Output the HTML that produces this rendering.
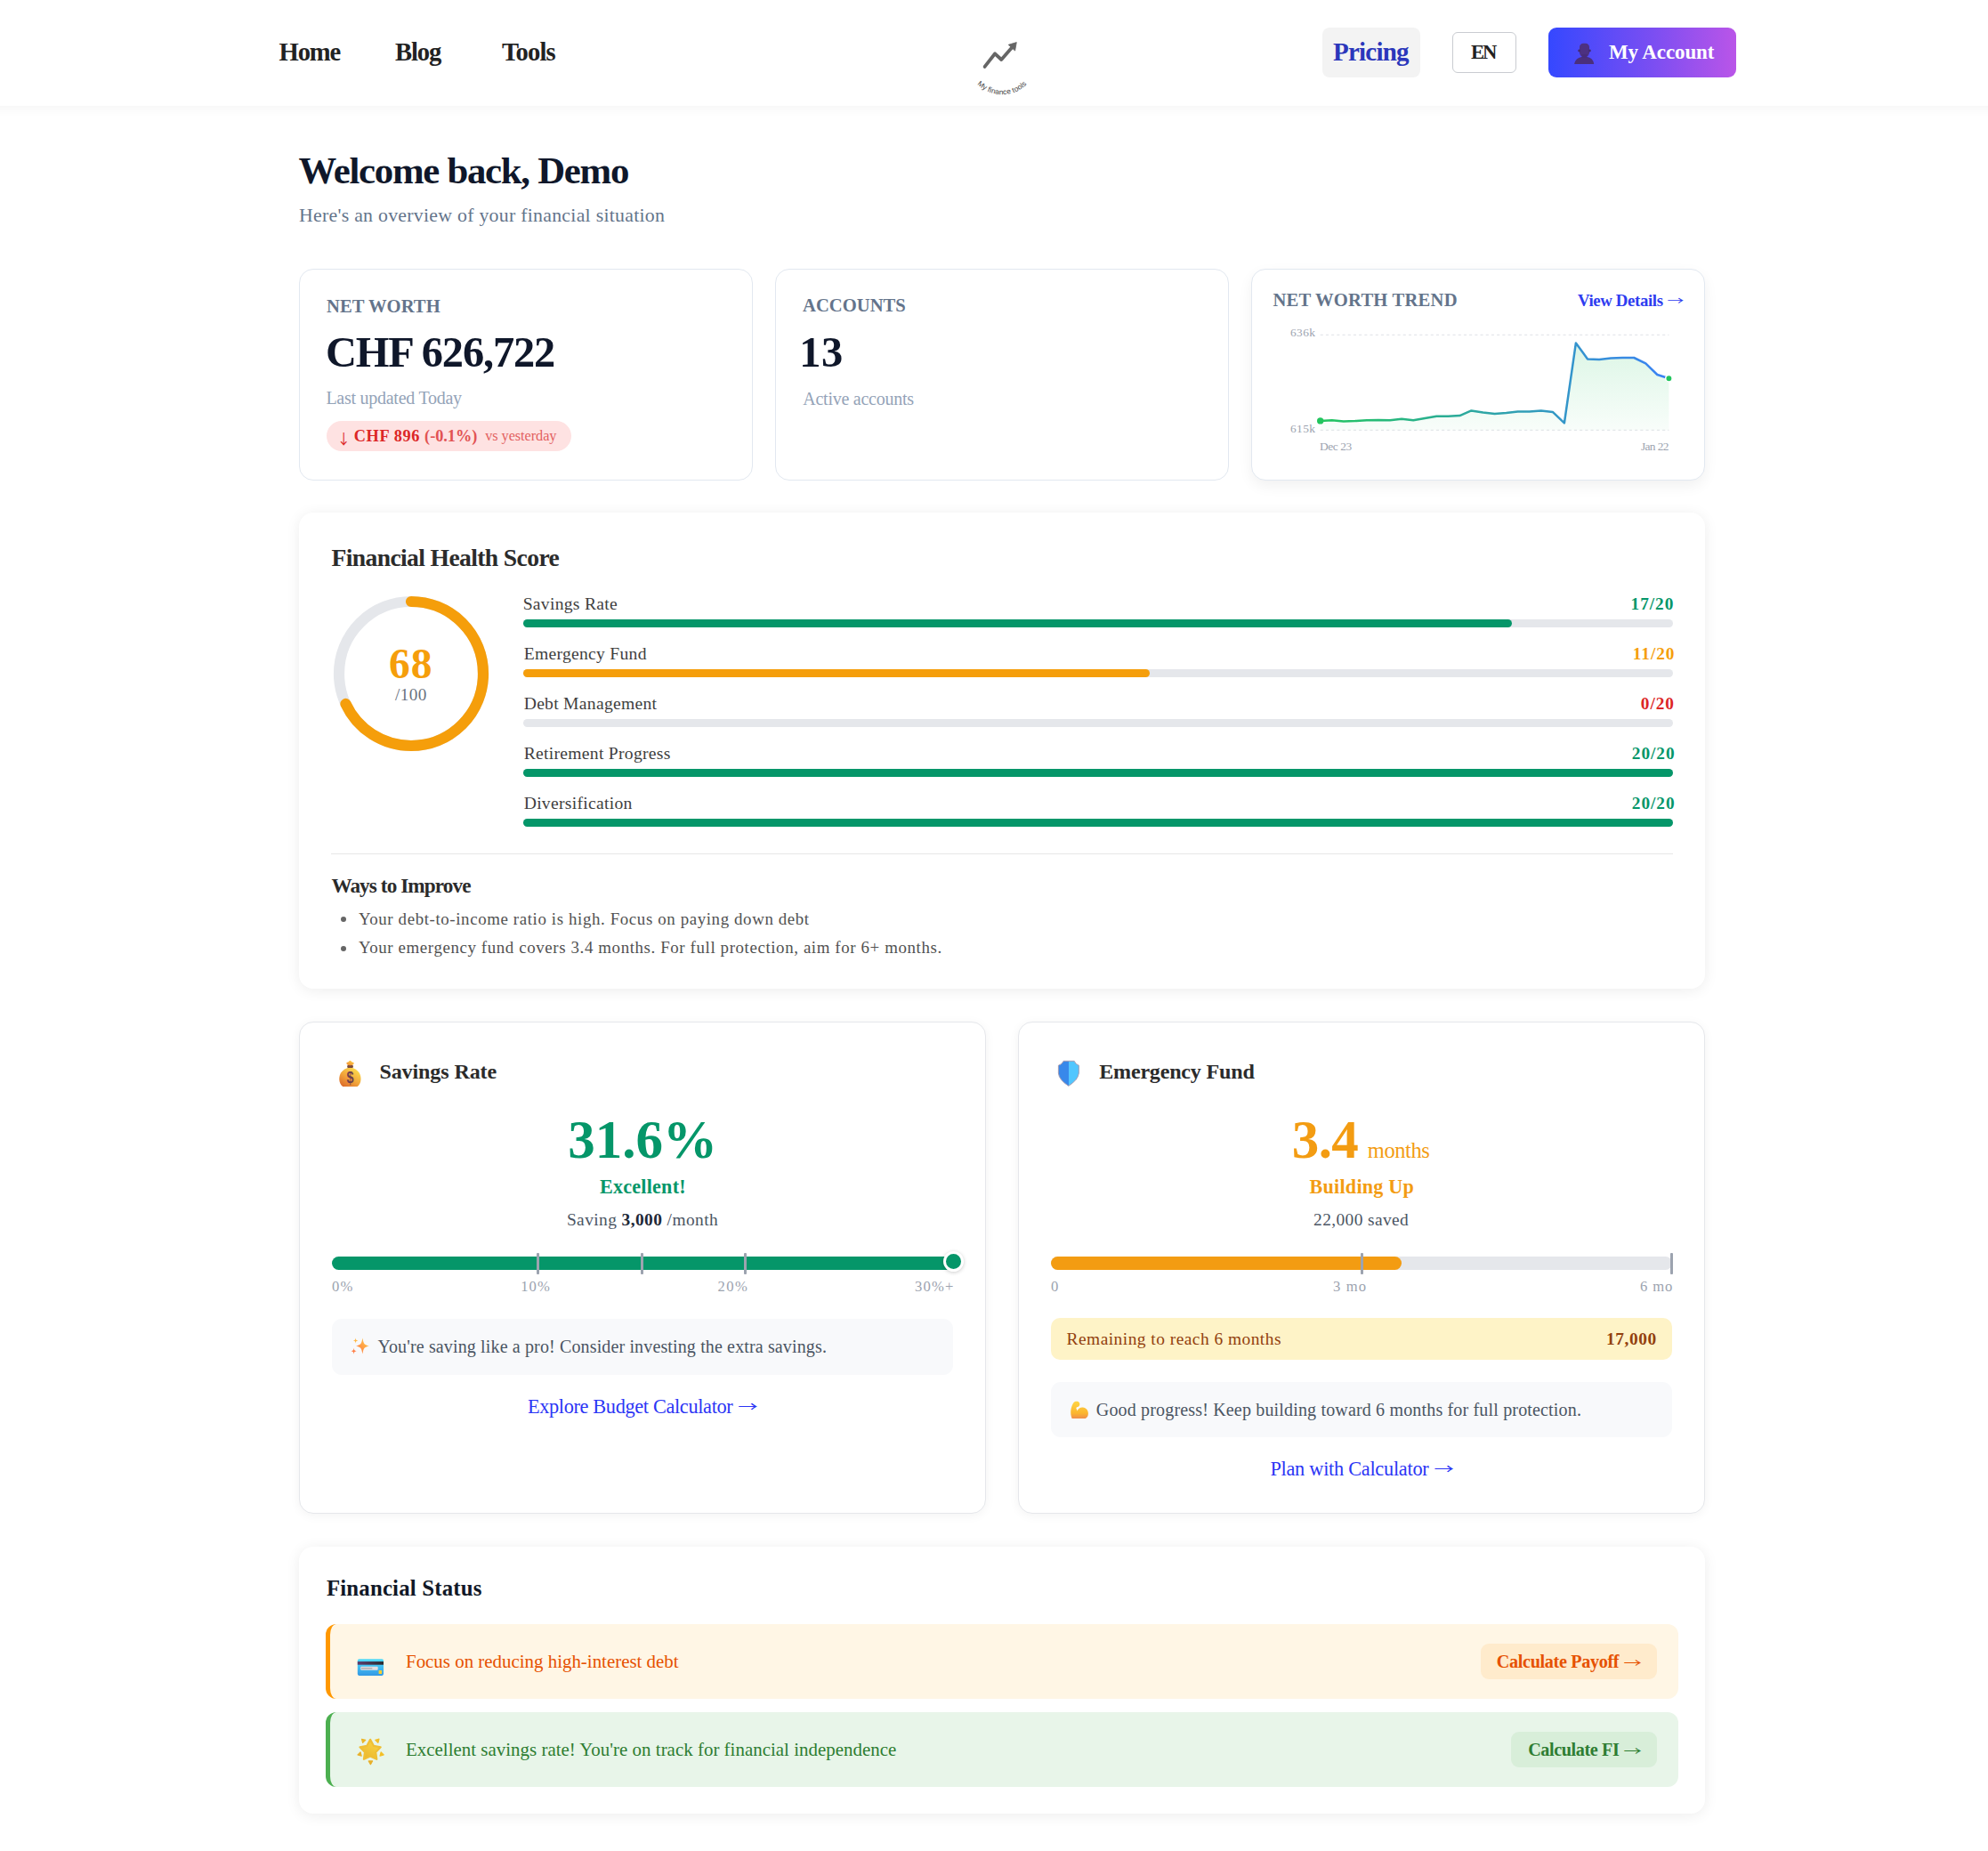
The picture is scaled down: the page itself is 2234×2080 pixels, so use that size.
<!DOCTYPE html>
<html lang="en"><head><meta charset="utf-8"><title>Dashboard - My finance tools</title>
<style>
html,body{margin:0;padding:0;}
body{width:2234px;height:2080px;position:relative;overflow:hidden;background:#fff;font-family:"Liberation Serif", "Times New Roman", serif;}
.t{position:absolute;white-space:nowrap;font-family:"Liberation Serif", "Times New Roman", serif;}
.b{position:absolute;box-sizing:border-box;}
.e{position:absolute;font-family:"Noto Color Emoji", "Liberation Serif", sans-serif;white-space:nowrap;}
svg.abs{position:absolute;overflow:visible;}
svg.ia{display:inline-block;overflow:visible;}
.arr{display:inline-block;font-family:"Noto Sans CJK JP","Noto Sans CJK SC","DejaVu Sans",sans-serif;line-height:0;transform:translateY(0.08em) scaleY(0.64);transform-origin:50% 0;}
.darr{display:inline-block;font-family:"Noto Sans CJK JP","Noto Sans CJK SC","DejaVu Sans",sans-serif;font-weight:400;line-height:0;transform:translateY(0.22em) scale(0.82,0.87);transform-origin:50% 0;margin-right:-0.2em;margin-left:-0.1em;}
</style></head><body>
<div class="b" style="left:-60px;top:0px;width:2354px;height:119px;background:#fff;box-shadow:0 3px 12px rgba(0,0,0,0.045);z-index:1;"></div><div class="t" id="home" style="left:313.60px;top:44.76px;font-size:28.6px;line-height:28.6px;font-weight:700;color:#222222;letter-spacing:-1.136px;z-index:2;"><span>Home</span></div><div class="t" id="blog" style="left:444.00px;top:44.76px;font-size:28.6px;line-height:28.6px;font-weight:700;color:#222222;letter-spacing:-1.136px;z-index:2;"><span>Blog</span></div><div class="t" id="tools" style="left:564.00px;top:44.76px;font-size:28.6px;line-height:28.6px;font-weight:700;color:#222222;letter-spacing:-0.850px;z-index:2;"><span>Tools</span></div><svg class="abs" style="left:1080px;top:30px;z-index:2" width="100" height="85" viewBox="1080 30 100 85">
<polyline points="1106.6,74.9 1118.1,60.3 1125.3,67 1139,51.2" fill="none" stroke="#666" stroke-width="3.8" stroke-linecap="round" stroke-linejoin="round"/>
<polygon points="1142.3,47.6 1133.2,50.3 1140.6,57" fill="#666" stroke="#666" stroke-width="0.8" stroke-linejoin="round"/>
<defs><path id="arc" d="M 1086 66.2 A 40 40 0 0 0 1166 66.2"/></defs>
<text font-family="Liberation Sans, Arial, sans-serif" font-size="8.3" letter-spacing="0.12" fill="#404040"><textPath href="#arc" startOffset="50%" text-anchor="middle">My finance tools</textPath></text>
</svg><div class="b" style="left:1486px;top:31px;width:110px;height:56px;background:#f3f3f3;border-radius:8px;z-index:2;"></div><div class="t" id="pricing" style="left:1498.00px;top:43.52px;font-size:29px;line-height:29px;font-weight:700;color:#2b37bb;letter-spacing:-0.765px;z-index:3;"><span>Pricing</span></div><div class="b" style="left:1632px;top:36px;width:72px;height:46px;background:#fff;border:1.2px solid #c9ccd1;border-radius:6px;z-index:2;"></div><div class="t" id="en" style="left:1653.00px;top:47.97px;font-size:22.6px;line-height:22.6px;font-weight:700;color:#222;letter-spacing:-2.000px;z-index:3;"><span>EN</span></div><div class="b" style="left:1740px;top:31px;width:211px;height:56px;background:linear-gradient(90deg,#3548ff 0%,#7a4ef2 55%,#ba55e8 100%);border-radius:9px;z-index:2;"></div><svg class="abs" style="left:1765px;top:45px;z-index:3" width="30" height="30" viewBox="1765 45 30 30"><path d="M1769.2 72 C1769.8 67.2 1773.5 64.4 1778 64 L1783 64 C1787.5 64.4 1790.6 67.2 1791.2 72 Z" fill="#4a2f7c"/><rect x="1775" y="48.8" width="11" height="14.6" rx="4.2" fill="#4d3181"/><circle cx="1774.6" cy="57" r="1.4" fill="#432a72"/><circle cx="1786.4" cy="57" r="1.4" fill="#432a72"/><rect x="1777.5" y="61" width="6" height="4" fill="#472d79"/></svg><div class="t" id="myacc" style="left:1808.00px;top:46.74px;font-size:23px;line-height:23px;font-weight:700;color:#fff;letter-spacing:-0.111px;z-index:3;"><span>My Account</span></div><div class="t" id="h1" style="left:335.60px;top:171.26px;font-size:42.8px;line-height:42.8px;font-weight:700;color:#0f172a;letter-spacing:-1.274px;"><span>Welcome back, Demo</span></div><div class="t" id="sub" style="left:336.00px;top:231.94px;font-size:21.8px;line-height:21.8px;font-weight:400;color:#64748b;letter-spacing:0.275px;"><span>Here's an overview of your financial situation</span></div><div class="b" style="left:336px;top:302px;width:510px;height:238px;background:#fff;border:1.2px solid #e2e8f0;border-radius:16px;"></div><div class="b" style="left:871px;top:302px;width:510px;height:238px;background:#fff;border:1.2px solid #e2e8f0;border-radius:16px;"></div><div class="b" style="left:1406px;top:302px;width:510px;height:238px;background:#fff;border:1.2px solid #e2e8f0;border-radius:16px;box-shadow:0 6px 16px rgba(0,0,0,0.06);"></div><div class="t" id="nw" style="left:367.00px;top:333.85px;font-size:20.6px;line-height:20.6px;font-weight:700;color:#64748b;letter-spacing:0.050px;"><span>NET WORTH</span></div><div class="t" id="chf" style="left:365.90px;top:371.57px;font-size:48.4px;line-height:48.4px;font-weight:700;color:#0f172a;letter-spacing:-1.140px;"><span>CHF 626,722</span></div><div class="t" id="lu" style="left:366.40px;top:437.15px;font-size:20px;line-height:20px;font-weight:400;color:#94a3b8;letter-spacing:-0.261px;"><span>Last updated Today</span></div><div class="b" style="left:367px;top:473px;width:275px;height:34px;background:#fee2e2;border-radius:17px;"></div><div class="t" id="chg" style="left:379.10px;top:480.58px;font-size:18.3px;line-height:18.3px;font-weight:700;color:#dc2626;letter-spacing:0.625px;"><span><span class="darr">&#8595;</span> CHF 896</span></div><div class="t" id="pct" style="left:477.10px;top:480.58px;font-size:18.3px;line-height:18.3px;font-weight:700;color:#e25252;letter-spacing:-0.032px;"><span>(-0.1%)</span></div><div class="t" id="vsy" style="left:545.20px;top:482.25px;font-size:16.3px;line-height:16.3px;font-weight:400;color:#e36060;letter-spacing:-0.057px;"><span>vs yesterday</span></div><div class="t" id="acc" style="left:902.00px;top:333.05px;font-size:20.6px;line-height:20.6px;font-weight:700;color:#64748b;letter-spacing:0.031px;"><span>ACCOUNTS</span></div><div class="t" id="n13" style="left:898.30px;top:372.27px;font-size:48.4px;line-height:48.4px;font-weight:700;color:#0f172a;letter-spacing:0.600px;"><span>13</span></div><div class="t" id="aa" style="left:902.30px;top:437.85px;font-size:20px;line-height:20px;font-weight:400;color:#94a3b8;letter-spacing:-0.258px;"><span>Active accounts</span></div><div class="t" id="nwt" style="left:1430.40px;top:327.15px;font-size:20.6px;line-height:20.6px;font-weight:700;color:#64748b;letter-spacing:0.214px;"><span>NET WORTH TREND</span></div><div class="t" id="vd" style="left:1773.00px;top:328.71px;font-size:18.8px;line-height:18.8px;font-weight:700;color:#2e3cf0;letter-spacing:-0.366px;"><span>View Details <span class="arr" style="font-weight:400;margin-left:0.56px">&#8594;</span></span></div><svg class="abs" style="left:0;top:0" width="2234" height="600" viewBox="0 0 2234 600">
<defs>
<linearGradient id="lg" x1="1483.7" y1="0" x2="1875.4" y2="0" gradientUnits="userSpaceOnUse"><stop offset="0" stop-color="#22c55e"/><stop offset="1" stop-color="#3b82f6"/></linearGradient>
<linearGradient id="fg" x1="0" y1="385" x2="0" y2="484" gradientUnits="userSpaceOnUse"><stop offset="0" stop-color="#22c55e" stop-opacity="0.16"/><stop offset="1" stop-color="#22c55e" stop-opacity="0.03"/></linearGradient>
</defs>
<line x1="1483.7" y1="376.4" x2="1875.4" y2="376.4" stroke="#e5e7eb" stroke-width="1.2" stroke-dasharray="3.1 3.1"/>
<line x1="1483.7" y1="483.4" x2="1875.4" y2="483.4" stroke="#e5e7eb" stroke-width="1.2" stroke-dasharray="3.1 3.1"/>
<path d="M1483.7,483.4 L1483.7,472.9 L1496.8,472.3 L1509.8,473.5 L1522.9,473.1 L1535.9,472.3 L1549.0,472.0 L1562.0,472.3 L1575.1,470.8 L1588.2,472.3 L1601.2,470.1 L1614.3,467.8 L1627.3,467.8 L1640.4,467.1 L1653.4,461.4 L1666.5,463.5 L1679.6,465.0 L1692.6,464.1 L1705.7,462.6 L1718.7,462.6 L1731.8,461.4 L1744.8,462.9 L1757.9,475.3 L1770.9,385.4 L1784.0,403.5 L1797.1,404.1 L1810.1,402.5 L1823.2,402.0 L1836.2,402.0 L1849.3,408.3 L1862.3,421.0 L1875.4,425.2 L1875.4,483.4 Z" fill="url(#fg)"/>
<polyline points="1483.7,472.9 1496.8,472.3 1509.8,473.5 1522.9,473.1 1535.9,472.3 1549.0,472.0 1562.0,472.3 1575.1,470.8 1588.2,472.3 1601.2,470.1 1614.3,467.8 1627.3,467.8 1640.4,467.1 1653.4,461.4 1666.5,463.5 1679.6,465.0 1692.6,464.1 1705.7,462.6 1718.7,462.6 1731.8,461.4 1744.8,462.9 1757.9,475.3 1770.9,385.4 1784.0,403.5 1797.1,404.1 1810.1,402.5 1823.2,402.0 1836.2,402.0 1849.3,408.3 1862.3,421.0 1875.4,425.2" fill="none" stroke="url(#lg)" stroke-width="2.5" stroke-linejoin="round" stroke-linecap="round"/>
<circle cx="1483.7" cy="472.9" r="3.7" fill="#22c55e"/>
<circle cx="1875.4" cy="425.2" r="3.7" fill="#22c55e" stroke="#fff" stroke-width="1.5"/>
</svg><div class="t" id="y636" style="left:1449.90px;top:367.48px;font-size:13.4px;line-height:13.4px;font-weight:400;color:#9ca3af;letter-spacing:0.466px;"><span>636k</span></div><div class="t" id="y615" style="left:1449.90px;top:475.28px;font-size:13.4px;line-height:13.4px;font-weight:400;color:#9ca3af;letter-spacing:0.466px;"><span>615k</span></div><div class="t" id="xdec" style="left:1483.00px;top:495.48px;font-size:13.4px;line-height:13.4px;font-weight:400;color:#9ca3af;letter-spacing:-0.400px;"><span>Dec 23</span></div><div class="t" id="xjan" style="left:1844.00px;top:495.48px;font-size:13.4px;line-height:13.4px;font-weight:400;color:#9ca3af;letter-spacing:-0.640px;"><span>Jan 22</span></div><div class="b" style="left:336px;top:576px;width:1580px;height:535px;background:#fff;border-radius:16px;box-shadow:0 2px 16px rgba(0,0,0,0.075);"></div><div class="t" id="fhs" style="left:372.50px;top:612.99px;font-size:27.6px;line-height:27.6px;font-weight:700;color:#2b2b2b;letter-spacing:-0.619px;"><span>Financial Health Score</span></div><svg class="abs" style="left:361.8px;top:656.7px" width="200" height="200" viewBox="0 0 200 200">
<circle cx="100" cy="100" r="81" fill="none" stroke="#e5e7eb" stroke-width="12.2"/>
<circle cx="100" cy="100" r="81" fill="none" stroke="#f59e0b" stroke-width="12.2" stroke-linecap="round" stroke-dasharray="346.08 508.94" transform="rotate(-90 100 100)"/>
</svg><div class="t" id="s68" style="left:437.10px;top:723.32px;font-size:47.5px;line-height:47.5px;font-weight:700;color:#f59e0b;letter-spacing:1.000px;"><span>68</span></div><div class="t" id="s100" style="left:443.90px;top:771.32px;font-size:19.2px;line-height:19.2px;font-weight:400;color:#6b7280;letter-spacing:0.466px;"><span>/100</span></div><div class="t" id="bl0" style="left:587.70px;top:669.34px;font-size:19.6px;line-height:19.6px;font-weight:400;color:#404040;letter-spacing:0.290px;"><span>Savings Rate</span></div><div class="t" id="bs0" style="left:1832.60px;top:668.64px;font-size:19.3px;line-height:19.3px;font-weight:700;color:#059669;letter-spacing:0.950px;"><span>17/20</span></div><div class="b" style="left:588px;top:696px;width:1292px;height:9.200000000000045px;background:#e5e7eb;border-radius:5px;"></div><div class="b" style="left:588px;top:696px;width:1111.12px;height:9.200000000000045px;background:#059669;border-radius:5px;"></div><div class="t" id="bl1" style="left:588.70px;top:725.34px;font-size:19.6px;line-height:19.6px;font-weight:400;color:#404040;letter-spacing:0.290px;"><span>Emergency Fund</span></div><div class="t" id="bs1" style="left:1834.80px;top:724.64px;font-size:19.3px;line-height:19.3px;font-weight:700;color:#f59e0b;letter-spacing:0.950px;"><span>11/20</span></div><div class="b" style="left:588px;top:752px;width:1292px;height:9.200000000000045px;background:#e5e7eb;border-radius:5px;"></div><div class="b" style="left:588px;top:752px;width:704.1400000000001px;height:9.200000000000045px;background:#f59e0b;border-radius:5px;"></div><div class="t" id="bl2" style="left:588.70px;top:781.34px;font-size:19.6px;line-height:19.6px;font-weight:400;color:#404040;letter-spacing:0.290px;"><span>Debt Management</span></div><div class="t" id="bs2" style="left:1843.80px;top:780.64px;font-size:19.3px;line-height:19.3px;font-weight:700;color:#dc2626;letter-spacing:0.950px;"><span>0/20</span></div><div class="b" style="left:588px;top:808px;width:1292px;height:9.200000000000045px;background:#e5e7eb;border-radius:5px;"></div><div class="t" id="bl3" style="left:588.70px;top:837.34px;font-size:19.6px;line-height:19.6px;font-weight:400;color:#404040;letter-spacing:0.290px;"><span>Retirement Progress</span></div><div class="t" id="bs3" style="left:1833.80px;top:836.64px;font-size:19.3px;line-height:19.3px;font-weight:700;color:#059669;letter-spacing:0.950px;"><span>20/20</span></div><div class="b" style="left:588px;top:864px;width:1292px;height:9.200000000000045px;background:#e5e7eb;border-radius:5px;"></div><div class="b" style="left:588px;top:864px;width:1292.0px;height:9.200000000000045px;background:#059669;border-radius:5px;"></div><div class="t" id="bl4" style="left:588.70px;top:893.34px;font-size:19.6px;line-height:19.6px;font-weight:400;color:#404040;letter-spacing:0.290px;"><span>Diversification</span></div><div class="t" id="bs4" style="left:1833.80px;top:892.64px;font-size:19.3px;line-height:19.3px;font-weight:700;color:#059669;letter-spacing:0.950px;"><span>20/20</span></div><div class="b" style="left:588px;top:920px;width:1292px;height:9.200000000000045px;background:#e5e7eb;border-radius:5px;"></div><div class="b" style="left:588px;top:920px;width:1292.0px;height:9.200000000000045px;background:#059669;border-radius:5px;"></div><div class="b" style="left:372px;top:958.9px;width:1508px;height:1.2000000000000455px;background:#e6e6e6;"></div><div class="t" id="wti" style="left:372.40px;top:983.57px;font-size:23.2px;line-height:23.2px;font-weight:700;color:#2b2b2b;letter-spacing:-0.898px;"><span>Ways to Improve</span></div><div class="b" style="left:382.8px;top:1030.1999999999998px;width:6px;height:6px;border-radius:50%;background:#666;"></div><div class="t" id="wb0" style="left:402.90px;top:1023.72px;font-size:18.9px;line-height:18.9px;font-weight:400;color:#525252;letter-spacing:0.609px;"><span>Your debt-to-income ratio is high. Focus on paying down debt</span></div><div class="b" style="left:382.8px;top:1062.6px;width:6px;height:6px;border-radius:50%;background:#666;"></div><div class="t" id="wb1" style="left:402.90px;top:1056.12px;font-size:18.9px;line-height:18.9px;font-weight:400;color:#525252;letter-spacing:0.606px;"><span>Your emergency fund covers 3.4 months. For full protection, aim for 6+ months.</span></div><div class="b" style="left:336px;top:1148px;width:772px;height:553px;background:#fff;border:1.2px solid #e5e7eb;border-radius:16px;box-shadow:0 2px 12px rgba(0,0,0,0.05);"></div><div class="b" style="left:1144px;top:1148px;width:772px;height:553px;background:#fff;border:1.2px solid #e5e7eb;border-radius:16px;box-shadow:0 2px 12px rgba(0,0,0,0.05);"></div><svg class="abs" style="left:378px;top:1189px" width="32" height="34" viewBox="378 1189 32 34">
<defs><linearGradient id="mbg" x1="0.85" y1="0.05" x2="0.15" y2="1"><stop offset="0" stop-color="#fde04f"/><stop offset="0.55" stop-color="#f1a33a"/><stop offset="1" stop-color="#dc6a2a"/></linearGradient>
<linearGradient id="mbt" x1="0.8" y1="0" x2="0.2" y2="1"><stop offset="0" stop-color="#fdd44a"/><stop offset="1" stop-color="#f08a30"/></linearGradient></defs>
<path d="M385.2 1221 C380.2 1217.5 380.4 1209.5 383.3 1205.3 C385.8 1201.7 389.4 1199.7 393.4 1199.7 C397.4 1199.7 401 1201.7 403.5 1205.3 C406.4 1209.5 406.6 1217.5 401.6 1221 Z" fill="url(#mbg)"/>
<rect x="390.2" y="1197.1" width="6.7" height="2.9" rx="1" fill="#7b4b3b"/>
<path d="M389.2 1194.6 C390 1193.1 391.6 1193.6 392.3 1192.4 C392.8 1191.4 394.1 1191.4 394.6 1192.4 C395.3 1193.6 396.9 1193.1 397.9 1194.6 C397.5 1196.2 396.4 1197.3 393.5 1197.3 C390.6 1197.3 389.6 1196.2 389.2 1194.6 Z" fill="url(#mbt)"/>
<text x="393.6" y="1217.2" font-family="Liberation Sans, Arial, sans-serif" font-weight="700" font-size="18" fill="#6d3f4c" text-anchor="middle" transform="translate(393.6 0) scale(0.8 1) translate(-393.6 0)">$</text>
</svg><div class="t" id="srt" style="left:426.40px;top:1192.12px;font-size:24.1px;line-height:24.1px;font-weight:700;color:#2b2b2b;letter-spacing:-0.131px;"><span>Savings Rate</span></div><div class="t" id="p316" style="left:638.30px;top:1249.57px;font-size:61px;line-height:61px;font-weight:700;color:#059669;"><span>31.6%</span></div><div class="t" id="exc" style="left:673.90px;top:1322.99px;font-size:22.1px;line-height:22.1px;font-weight:700;color:#059669;letter-spacing:0.249px;"><span>Excellent!</span></div><div class="t" id="sav" style="left:636.90px;top:1360.55px;font-size:19.4px;line-height:19.4px;font-weight:400;color:#4b5563;letter-spacing:0.424px;"><span>Saving <b style="color:#1f2937">3,000</b> /month</span></div><div class="b" style="left:373px;top:1412px;width:698px;height:15px;background:#059669;border-radius:8px;"></div><div class="b" style="left:603.4px;top:1408px;width:3.0px;height:24px;background:#9ca3af;border-radius:1px;"></div><div class="b" style="left:720.3px;top:1408px;width:3.0px;height:24px;background:#9ca3af;border-radius:1px;"></div><div class="b" style="left:836.4px;top:1408px;width:3.0px;height:24px;background:#9ca3af;border-radius:1px;"></div><div class="b" style="left:1059.5px;top:1405.5px;width:23px;height:23px;border-radius:50%;background:#059669;border:3px solid #fff;box-shadow:0 1px 4px rgba(0,0,0,0.2);"></div><div class="t" id="l0" style="left:373.00px;top:1437.50px;font-size:16.6px;line-height:16.6px;font-weight:400;color:#9ca3af;letter-spacing:1.198px;"><span>0%</span></div><div class="t" id="l10" style="left:585.20px;top:1437.50px;font-size:16.6px;line-height:16.6px;font-weight:400;color:#9ca3af;letter-spacing:1.100px;"><span>10%</span></div><div class="t" id="l20" style="left:806.50px;top:1437.50px;font-size:16.6px;line-height:16.6px;font-weight:400;color:#9ca3af;letter-spacing:1.400px;"><span>20%</span></div><div class="t" id="l30" style="left:1028.00px;top:1437.50px;font-size:16.6px;line-height:16.6px;font-weight:400;color:#9ca3af;letter-spacing:1.198px;"><span>30%+</span></div><div class="b" style="left:373px;top:1482px;width:698px;height:63px;background:#f8f9fb;border-radius:11px;"></div><svg class="abs" style="left:392px;top:1501px" width="26" height="24" viewBox="392 1501 26 24">
<defs><linearGradient id="spg" x1="1" y1="0" x2="0" y2="1"><stop offset="0" stop-color="#ffd24a"/><stop offset="1" stop-color="#ff7143"/></linearGradient></defs>
<path d="M407.4 1503.6 C408.85999999999996 1510.8 408.85999999999996 1510.8 414.7 1512.6 C408.85999999999996 1514.3999999999999 408.85999999999996 1514.3999999999999 407.4 1521.6 C405.94 1514.3999999999999 405.94 1514.3999999999999 400.09999999999997 1512.6 C405.94 1510.8 405.94 1510.8 407.4 1503.6 Z" fill="url(#spg)"/>
<path d="M399.6 1503.4 C400.12 1505.8000000000002 400.12 1505.8000000000002 402.20000000000005 1506.4 C400.12 1507.0 400.12 1507.0 399.6 1509.4 C399.08000000000004 1507.0 399.08000000000004 1507.0 397.0 1506.4 C399.08000000000004 1505.8000000000002 399.08000000000004 1505.8000000000002 399.6 1503.4 Z" fill="#ffb845"/>
<path d="M397.6 1514.7 C398.20000000000005 1517.5 398.20000000000005 1517.5 400.6 1518.2 C398.20000000000005 1518.9 398.20000000000005 1518.9 397.6 1521.7 C397.0 1518.9 397.0 1518.9 394.6 1518.2 C397.0 1517.5 397.0 1517.5 397.6 1514.7 Z" fill="#ff8048"/>
</svg><div class="t" id="tip1" style="left:424.40px;top:1503.05px;font-size:20px;line-height:20px;font-weight:400;color:#4b5563;letter-spacing:0.138px;"><span>You're saving like a pro! Consider investing the extra savings.</span></div><div class="t" id="lnk1" style="left:592.90px;top:1570.33px;font-size:22.3px;line-height:22.3px;font-weight:400;color:#2b35f5;letter-spacing:-0.340px;"><span>Explore Budget Calculator <span class="arr" style="font-weight:400;margin-left:0.67px">&#8594;</span></span></div><svg class="abs" style="left:1186px;top:1189px" width="30" height="34" viewBox="1186 1189 30 34">
<defs><linearGradient id="shg" x1="1189.3" y1="0" x2="1212.4" y2="0" gradientUnits="userSpaceOnUse"><stop offset="0.5" stop-color="#3888ea"/><stop offset="0.5" stop-color="#52c6fe"/></linearGradient></defs>
<path d="M1195.1 1192.3 L1207.2 1192.3 Q1208.6 1196.1 1212.3 1197.2 L1212.3 1206 Q1211.4 1213.6 1200.8 1220.3 Q1190.2 1213.6 1189.4 1206 L1189.4 1197.2 Q1193.6 1196.1 1195.1 1192.3 Z" fill="url(#shg)" stroke="#a49cb3" stroke-width="1"/>
</svg><div class="t" id="eft" style="left:1235.20px;top:1192.12px;font-size:24.1px;line-height:24.1px;font-weight:700;color:#2b2b2b;letter-spacing:-0.212px;"><span>Emergency Fund</span></div><div class="t" id="p34" style="left:1451.80px;top:1250.02px;font-size:61px;line-height:61px;font-weight:700;color:#f39c12;letter-spacing:-0.600px;"><span>3.4</span></div><div class="t" id="mon" style="left:1536.80px;top:1280.58px;font-size:24.5px;line-height:24.5px;font-weight:400;color:#f39c12;letter-spacing:-0.440px;"><span>months</span></div><div class="t" id="bu" style="left:1471.60px;top:1322.99px;font-size:22.1px;line-height:22.1px;font-weight:700;color:#f39c12;letter-spacing:0.240px;"><span>Building Up</span></div><div class="t" id="s22" style="left:1476.10px;top:1360.55px;font-size:19.4px;line-height:19.4px;font-weight:400;color:#4b5563;letter-spacing:0.398px;"><span>22,000 saved</span></div><div class="b" style="left:1181px;top:1412px;width:698px;height:15px;background:#e5e7eb;border-radius:8px;"></div><div class="b" style="left:1181px;top:1412px;width:394px;height:15px;background:#f39c12;border-radius:8px;"></div><div class="b" style="left:1528.7px;top:1408px;width:3.0px;height:24px;background:#9ca3af;border-radius:1px;"></div><div class="b" style="left:1877.0px;top:1408px;width:3.0px;height:24px;background:#9ca3af;border-radius:1px;"></div><div class="t" id="m0" style="left:1181.00px;top:1437.50px;font-size:16.6px;line-height:16.6px;font-weight:400;color:#9ca3af;"><span>0</span></div><div class="t" id="m3" style="left:1498.00px;top:1437.50px;font-size:16.6px;line-height:16.6px;font-weight:400;color:#9ca3af;letter-spacing:1.136px;"><span>3 mo</span></div><div class="t" id="m6" style="left:1843.00px;top:1437.50px;font-size:16.6px;line-height:16.6px;font-weight:400;color:#9ca3af;letter-spacing:0.864px;"><span>6 mo</span></div><div class="b" style="left:1181px;top:1481px;width:698px;height:47px;background:#fef3c7;border-radius:10px;"></div><div class="t" id="rem" style="left:1198.60px;top:1494.75px;font-size:19.4px;line-height:19.4px;font-weight:400;color:#92400e;letter-spacing:0.482px;"><span>Remaining to reach 6 months</span></div><div class="t" id="k17" style="left:1805.00px;top:1494.75px;font-size:19.4px;line-height:19.4px;font-weight:700;color:#92400e;letter-spacing:0.560px;"><span>17,000</span></div><div class="b" style="left:1181px;top:1553px;width:698px;height:62px;background:#f8f9fb;border-radius:11px;"></div><svg class="abs" style="left:1200px;top:1572px" width="26" height="25" viewBox="1200 1572 26 25">
<defs><linearGradient id="amg" x1="0" y1="0" x2="0" y2="1"><stop offset="0" stop-color="#ffd544"/><stop offset="0.7" stop-color="#fbb52e"/><stop offset="1" stop-color="#ef8f4a"/></linearGradient></defs>
<path d="M1204.6 1593.9 C1203.4 1591 1203 1588 1203.3 1585 C1203.7 1581.5 1205 1578.2 1206.6 1576 C1207.6 1574.8 1210.3 1574.4 1212 1575.2 C1213.6 1576.1 1213.8 1578.4 1212.6 1580 C1211.6 1581.2 1209.8 1580.8 1209.3 1582.2 L1210.6 1585.6 C1211.6 1582.6 1214.2 1581.4 1216.8 1581.6 C1220.6 1581.9 1223 1585.2 1222.9 1588.6 C1222.8 1591.4 1221.6 1593.2 1219.8 1593.9 Z" fill="url(#amg)"/>
</svg><div class="t" id="tip2" style="left:1231.80px;top:1574.05px;font-size:20px;line-height:20px;font-weight:400;color:#4b5563;letter-spacing:0.168px;"><span>Good progress! Keep building toward 6 months for full protection.</span></div><div class="t" id="lnk2" style="left:1427.40px;top:1640.43px;font-size:22.3px;line-height:22.3px;font-weight:400;color:#2b35f5;letter-spacing:-0.263px;"><span>Plan with Calculator <span class="arr" style="font-weight:400;margin-left:0.67px">&#8594;</span></span></div><div class="b" style="left:336px;top:1738px;width:1580px;height:300px;background:#fff;border-radius:16px;box-shadow:0 2px 16px rgba(0,0,0,0.075);"></div><div class="t" id="fs" style="left:366.90px;top:1772.83px;font-size:24.8px;line-height:24.8px;font-weight:700;color:#111827;letter-spacing:0.200px;"><span>Financial Status</span></div><div class="b" style="left:366px;top:1825px;width:1520px;height:84px;background:#fff6e5;border-left:5px solid #ff9800;border-radius:12px;"></div><svg class="abs" style="left:399px;top:1862px" width="35" height="24" viewBox="399 1862 35 24">
<defs><linearGradient id="ccg" x1="0" y1="0" x2="0" y2="1"><stop offset="0" stop-color="#52dbf8"/><stop offset="0.45" stop-color="#44c0f2"/><stop offset="1" stop-color="#3398e4"/></linearGradient>
<linearGradient id="ccs" x1="0" y1="0" x2="1" y2="0"><stop offset="0" stop-color="#5c3b6c"/><stop offset="1" stop-color="#2b2a2c"/></linearGradient></defs>
<rect x="401.8" y="1864.2" width="29.2" height="18.7" rx="1.8" fill="url(#ccg)"/>
<rect x="401.8" y="1867.1" width="29.2" height="3.6" fill="url(#ccs)"/>
<rect x="405.2" y="1872.7" width="19.5" height="4.1" rx="1" fill="#e3dde0"/>
<rect x="406" y="1874.2" width="12.3" height="1.2" fill="#aba6a8"/>
<rect x="425.6" y="1877.1" width="3.5" height="3.9" rx="0.6" fill="#fbcf2c"/>
</svg><div class="t" id="st1" style="left:456.00px;top:1857.45px;font-size:20.9px;line-height:20.9px;font-weight:400;color:#e65100;letter-spacing:0.008px;"><span>Focus on reducing high-interest debt</span></div><div class="b" style="left:1664px;top:1847px;width:198px;height:40px;background:#ffebcc;border-radius:9px;"></div><div class="t" id="cp" style="left:1681.80px;top:1856.88px;font-size:20.2px;line-height:20.2px;font-weight:700;color:#e65100;letter-spacing:-0.348px;"><span>Calculate Payoff <span class="arr" style="font-weight:400;margin-left:0.61px">&#8594;</span></span></div><div class="b" style="left:366px;top:1924px;width:1520px;height:84px;background:#e8f5e9;border-left:5px solid #4caf50;border-radius:12px;"></div><svg class="abs" style="left:398px;top:1948px" width="38" height="38" viewBox="398 1948 38 38">
<defs><linearGradient id="gsg" x1="0.8" y1="0" x2="0.2" y2="1"><stop offset="0" stop-color="#fbd646"/><stop offset="1" stop-color="#e9b62c"/></linearGradient></defs>
<polygon points="416.10,1954.80 419.86,1961.82 427.70,1963.23 422.19,1968.98 423.27,1976.87 416.10,1973.40 408.93,1976.87 410.01,1968.98 404.50,1963.23 412.34,1961.82" fill="url(#gsg)" stroke="#efbf35" stroke-width="2.2" stroke-linejoin="round"/>
<polygon points="406.53,1954.23 410.71,1955.35 407.65,1958.41" fill="#ebb62a" stroke="#ebb62a" stroke-width="1.2" stroke-linejoin="round"/>
<polygon points="425.97,1954.13 424.85,1958.31 421.79,1955.25" fill="#f2bf2a" stroke="#f2bf2a" stroke-width="1.2" stroke-linejoin="round"/>
<polygon points="401.99,1971.95 405.05,1968.89 406.17,1973.07" fill="#e8b12a" stroke="#e8b12a" stroke-width="1.2" stroke-linejoin="round"/>
<polygon points="431.21,1971.95 427.03,1973.07 428.15,1968.89" fill="#f3bf26" stroke="#f3bf26" stroke-width="1.2" stroke-linejoin="round"/>
<polygon points="416.40,1982.70 414.23,1978.95 418.57,1978.95" fill="#e8b02a" stroke="#e8b02a" stroke-width="1.2" stroke-linejoin="round"/>
</svg><div class="t" id="st2" style="left:456.00px;top:1956.45px;font-size:20.9px;line-height:20.9px;font-weight:400;color:#2e7d32;letter-spacing:0.026px;"><span>Excellent savings rate! You're on track for financial independence</span></div><div class="b" style="left:1698px;top:1946px;width:164px;height:40px;background:#d8eed9;border-radius:9px;"></div><div class="t" id="cfi" style="left:1717.20px;top:1955.88px;font-size:20.2px;line-height:20.2px;font-weight:700;color:#2e7d32;letter-spacing:-0.410px;"><span>Calculate FI <span class="arr" style="font-weight:400;margin-left:0.61px">&#8594;</span></span></div>
</body></html>
